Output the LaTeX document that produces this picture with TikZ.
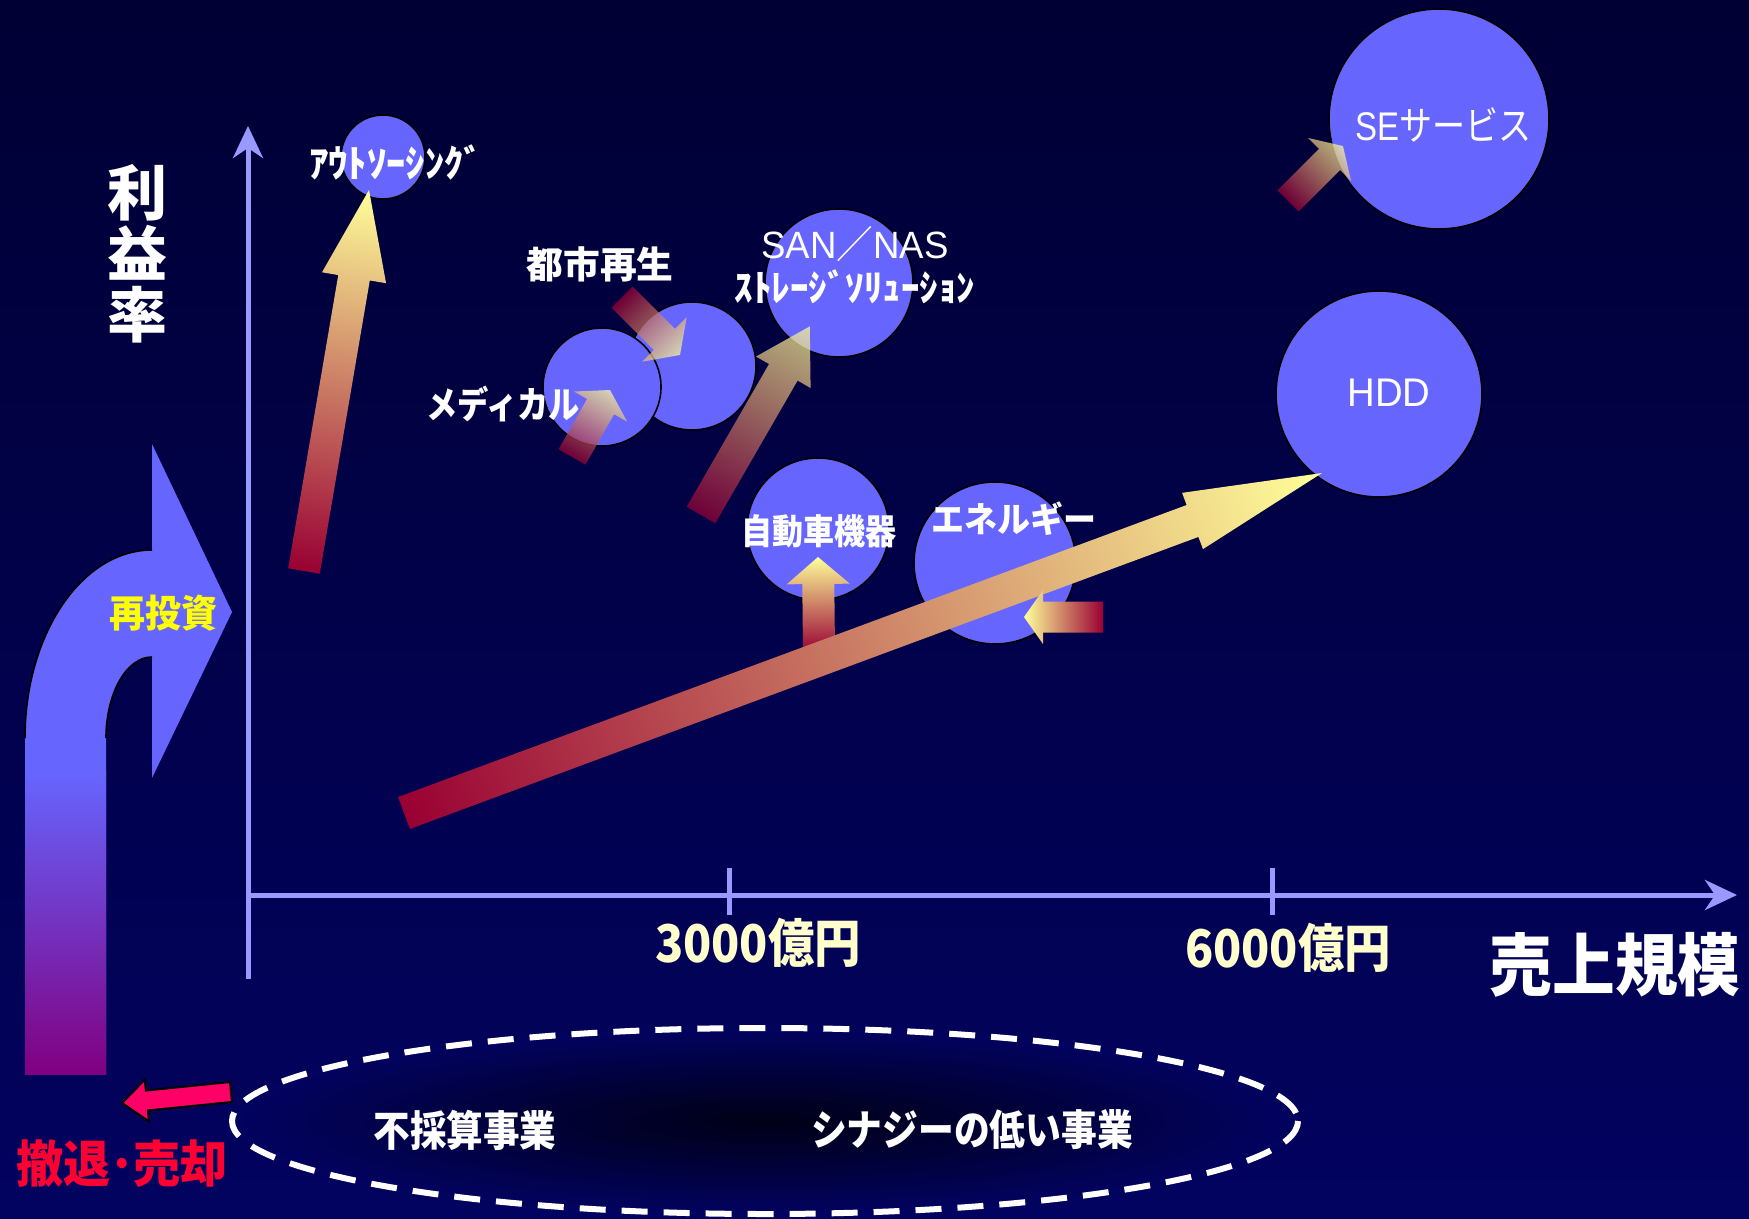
\documentclass[tikz,border=0pt]{standalone}
\usepackage{fontspec}
\usepackage{graphicx}
\newfontfamily\jp{Noto Sans CJK JP}
\newfontfamily\lat{Liberation Sans}
\usetikzlibrary{arrows.meta,calc}
\definecolor{bgtop}{RGB}{0,0,52}
\definecolor{bgbot}{RGB}{2,2,96}
\definecolor{bubblec}{HTML}{6666FF}
\definecolor{axisc}{HTML}{9999FF}
\definecolor{creamc}{HTML}{FFFFCC}
\definecolor{headc}{HTML}{FFFF99}
\definecolor{tailc}{HTML}{990033}
\definecolor{purplec}{HTML}{800080}
\definecolor{exitc}{HTML}{FF0066}
\definecolor{exittext}{HTML}{FF0033}
\definecolor{voidc}{RGB}{0,0,22}
\definecolor{yelc}{HTML}{FFFF00}

% block arrow: #1 tail coordinate, #2 tip coordinate, #3 shaft width, #4 head width, #5 head length (px), #6 style
\newcommand\blockarrow[6]{%
  \path let \p1=($(#2)-(#1)$) in \pgfextra{%
    \pgfmathsetmacro\baangL{atan2(\y1,\x1)}%
    \pgfmathsetmacro\balenL{veclen(\x1,\y1)}%
    \xdef\baang{\baangL}\xdef\balen{\balenL}};
  \begin{scope}[transform canvas={shift={(#1)},rotate=\baang}]
    \path[#6] (0pt,{-#3*0.25pt}) -- ({\balen pt-#5*0.5pt},{-#3*0.25pt})
      -- ({\balen pt-#5*0.5pt},{-#4*0.25pt}) -- (\balen pt,0pt)
      -- ({\balen pt-#5*0.5pt},{#4*0.25pt}) -- ({\balen pt-#5*0.5pt},{#3*0.25pt})
      -- (0pt,{#3*0.25pt}) -- cycle;
  \end{scope}}
\newcommand\fitw[3]{\resizebox{#1pt}{\height}{\fontsize{#2pt}{#2pt}\selectfont #3}}

\begin{document}
\begin{tikzpicture}[x=0.5pt,y=-0.5pt,
  bubble/.style={circle, fill=bubblec, draw=black, line width=0.8pt, inner sep=0pt},
  lbl/.style={inner sep=0pt, text=white, font=\jp\bfseries},
  lblr/.style={inner sep=0pt, text=white, font=\jp},
  axisline/.style={draw=axisc, line width=2.5pt},
  gradarrow/.style={left color=tailc, right color=headc},
  softarrow/.style={left color=tailc, right color=headc, opacity=0.72},
  exitarrow/.style={fill=exitc, draw=black, line width=1pt, line join=miter}]
\useasboundingbox (0,0) rectangle (1749,1219);
% background
\shade[top color=bgtop, bottom color=bgbot] (0,0) rectangle (1749,1219);

% bottom ellipse area
\shade[inner color=voidc, outer color=bgbot] (765,1121) ellipse [x radius=533, y radius=93];
\draw[white, line width=3pt, dash pattern=on 13pt off 8pt] (765,1121) ellipse [x radius=533, y radius=93];

% reinvestment bent arrow
\fill[bubblec] (25,1074) -- (25,738) arc[start angle=180,end angle=270,x radius=127,y radius=188]
  -- (152,444) -- (232,612) -- (152,778) -- (152,657)
  arc[start angle=270,end angle=180,x radius=46,y radius=81] -- (106,1074) -- cycle;
\shade[top color=bubblec, bottom color=purplec] (25,770) rectangle (106,1074);
\draw[black, line width=0.8pt] (25,738) arc[start angle=180,end angle=270,x radius=127,y radius=188];
\draw[black, line width=0.8pt] (152,657) arc[start angle=270,end angle=180,x radius=46,y radius=81];

% axes
\coordinate (ybot) at (248,979);
\coordinate (ytop) at (248,126);
\coordinate (xleft) at (248,895);
\coordinate (xright) at (1737,895);
\coordinate (tk1a) at (729,868);
\coordinate (tk1b) at (729,915);
\coordinate (tk2a) at (1272,868);
\coordinate (tk2b) at (1272,915);
\draw[axisline, -{Stealth[length=16pt,width=15pt,inset=5pt]}] (ybot) -- (ytop);
\draw[axisline, -{Stealth[length=16pt,width=15pt,inset=5pt]}] (xleft) -- (xright);
\draw[axisline] (tk1a) -- (tk1b);
\draw[axisline] (tk2a) -- (tk2b);

% bubbles
\node[bubble, minimum size=42pt] (c_out) at (383,157) {};
\node[bubble, minimum size=64pt] (c_toshi) at (692,366) {};
\node[bubble, minimum size=59pt] (c_medi) at (602,387) {};
\node[bubble, minimum size=74pt] (c_san) at (839,283) {};
\node[bubble, minimum size=71pt] (c_auto) at (818,529) {};
\node[bubble, minimum size=81pt] (c_ene) at (995,563) {};
\node[bubble, minimum size=103pt] (c_hdd) at (1379,394) {};
\node[bubble, minimum size=110pt] (c_se) at (1439,119) {};

% arrow end points
\coordinate (a_out_t) at (304,571);  \coordinate (a_out_h) at (369,190);
\coordinate (a_tos_t) at (622,297);  \coordinate (a_tos_h) at (680,355);
\coordinate (a_med_t) at (572,457);  \coordinate (a_med_h) at (610,390);
\coordinate (a_san_t) at (701,515);  \coordinate (a_san_h) at (810,326);
\coordinate (a_se_t) at (1288,201);  \coordinate (a_se_h) at (1343,146);
\coordinate (a_aut_t) at (819,652);  \coordinate (a_aut_h) at (818,557);
\coordinate (a_big_t) at (404,813);  \coordinate (a_big_h) at (1322,473);
\coordinate (a_ene_t) at (1103,617); \coordinate (a_ene_h) at (1024,617);
\coordinate (a_ex_t) at (231,1092);  \coordinate (a_ex_h) at (122,1103);

\blockarrow{a_out_t}{a_out_h}{32}{65}{89}{gradarrow}
\blockarrow{a_tos_t}{a_tos_h}{30}{63}{22}{softarrow}
\blockarrow{a_med_t}{a_med_h}{31}{61}{19}{softarrow}
\blockarrow{a_san_t}{a_san_h}{33}{63}{53}{softarrow}
\blockarrow{a_se_t}{a_se_h}{30}{61}{19}{softarrow}
\blockarrow{a_aut_t}{a_aut_h}{32}{63}{27}{gradarrow}
\blockarrow{a_big_t}{a_big_h}{34}{60}{138}{gradarrow}
\blockarrow{a_ene_t}{a_ene_h}{31}{54}{19}{gradarrow}
\blockarrow{a_ex_t}{a_ex_h}{20}{42}{25}{exitarrow}

% labels
\node[lbl, align=center, font=\jp\bfseries\fontsize{30}{30.5}\selectfont] (t_rieki) at (137,254) {利\\益\\率};
\node[lbl] (t_uriage) at (1615,965) {\fitw{125.5}{34}{売上規模}};
\node[lbl, text=creamc] (t_3000) at (758,943) {\fitw{103}{26}{3000億円}};
\node[lbl, text=creamc] (t_6000) at (1288,948) {\fitw{103}{26}{6000億円}};
\node[lbl] (t_out) at (396,162) {\fitw{87}{19}{ｱｳﾄｿｰｼﾝｸﾞ}};
\node[lbl] (t_toshi) at (600,264) {\fitw{73.5}{18.5}{都市再生}};
\node[lbl] (t_medi) at (503,404) {\fitw{77}{18.5}{メディカル}};
\node[lblr] (t_san1) at (855,244) {\fitw{93.5}{19}{\lat SAN\jp／\lat NAS}};
\node[lbl] (t_san2) at (855,287) {\fitw{120.5}{18.5}{ｽﾄﾚｰｼﾞｿﾘｭｰｼｮﾝ}};
\node[lbl] (t_auto) at (819,531) {\fitw{77.5}{17.5}{自動車機器}};
\node[lbl] (t_ene) at (1014,519) {\fitw{82.5}{17.5}{エネルギー}};
\node[lblr] (t_hdd) at (1389,393) {\fitw{41.5}{20}{\lat HDD}};
\node[lblr] (t_se) at (1443,125) {\fitw{88}{20}{\lat SE\jp サービス}};
\node[lbl, text=yelc] (t_sai) at (163,613) {\fitw{54}{19}{再投資}};
\node[lbl] (t_fusai) at (465,1130) {\fitw{91.5}{21}{不採算事業}};
\node[lbl] (t_syn) at (972,1130) {\fitw{161}{21}{シナジーの低い事業}};
\node[lbl, text=exittext] (t_exit) at (122,1164) {\fitw{106}{25}{撤退･売却}};
\end{tikzpicture}
\end{document}
